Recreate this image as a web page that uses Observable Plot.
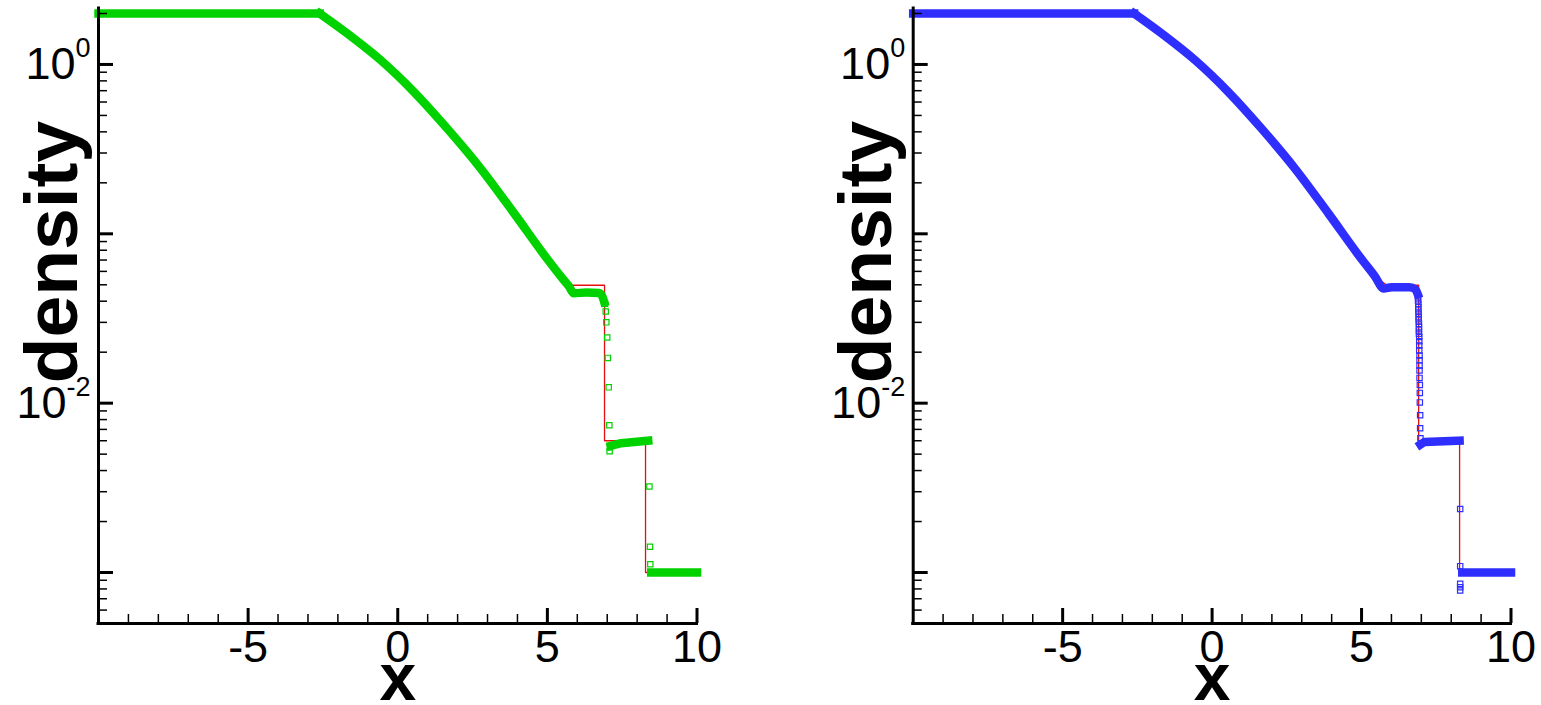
<!DOCTYPE html>
<html><head><meta charset="utf-8">
<script src="https://cdn.jsdelivr.net/npm/d3@7"></script>
<script src="https://cdn.jsdelivr.net/npm/@observablehq/plot@0.6"></script>
<style>
body{margin:0;background:#fff;}
#wrap{display:flex;width:1541px;height:705px;overflow:hidden;}
svg{display:block;}
</style></head><body><div id="wrap"></div>
<script>
// ---------- data ----------
const leftStateX = [-10, -2.61];
const leftStateRho = [2.0, 2.0];
const rarefX = [-2.61, -1.68, -0.57, 0.55, 1.66, 2.78, 3.89, 5.01, 5.45];
const rarefRho = [2.0, 1.52, 1.06, 0.686, 0.417, 0.242, 0.132, 0.0705, 0.0560];
// exact solution after the rarefaction
const exactTailX = [5.85, 6.91, 6.91, 8.28, 8.28, 10];
const exactTailRho = [0.0497, 0.0497, 0.0060, 0.0060, 0.0010, 0.0010];

// left panel (green) numerical solution
const gPlateauX = [5.72, 5.88, 6.30, 6.72, 6.84, 6.90];
const gPlateauRho = [0.0490, 0.0446, 0.0450, 0.0447, 0.0425, 0.0395];
const gContactX = [6.93, 6.95, 6.97, 7.00, 7.02, 7.05, 7.07, 7.08, 7.09];
const gContactRho = [0.0386, 0.0348, 0.0300, 0.0244, 0.0185, 0.0124, 0.0074, 0.0052, 0.0055];
const gMidX = [7.12, 7.46, 8.37];
const gMidRho = [0.0056, 0.0058, 0.0060];
const gShockX = [8.41, 8.43, 8.44];
const gShockRho = [0.00322, 0.00142, 0.00112];
const gRightX = [8.47, 10];
const gRightRho = [0.0010, 0.0010];

// right panel (blue) numerical solution
const bPlateauX = [5.74, 6.00, 6.60, 6.80, 6.88];
const bPlateauRho = [0.0475, 0.0484, 0.0484, 0.0470, 0.0440];
const bContactX = [6.89, 6.89, 6.90, 6.90, 6.90, 6.91, 6.91, 6.91, 6.92, 6.92, 6.92, 6.92, 6.93, 6.93, 6.93, 6.93, 6.94, 6.94, 6.94, 6.94, 6.94, 6.95, 6.95, 6.95, 6.96, 6.96, 6.97];
const bContactRho = [0.0422, 0.0404, 0.0386, 0.0369, 0.0353, 0.0337, 0.0322, 0.0308, 0.0294, 0.0281, 0.0269, 0.0257, 0.0246, 0.0232, 0.0219, 0.0205, 0.0191, 0.0179, 0.0167, 0.0156, 0.0141, 0.0128, 0.0115, 0.0101, 0.00849, 0.00711, 0.00621];
const bMidX = [6.97, 7.10, 8.28];
const bMidRho = [0.0057, 0.0059, 0.0060];
const bShockX = [8.30, 8.30, 8.30, 8.30, 8.30];
const bShockRho = [0.00237, 0.00109, 0.000857, 0.000819, 0.000783];
const bRightX = [8.37, 10];
const bRightRho = [0.0010, 0.0010];

// axes
const xDomain = [-10, 10];
const yDomain = [5e-4, 2.14];
const xMajor = [-5, 0, 5, 10];
const xMinor = [-9, -8, -7, -6, -4, -3, -2, -1, 1, 2, 3, 4, 6, 7, 8, 9];
const yMajor = [1, 0.1, 0.01, 0.001];
const yMinor = [2, 0.9, 0.8, 0.7, 0.6, 0.5, 0.4, 0.3, 0.2,
  0.09, 0.08, 0.07, 0.06, 0.05, 0.04, 0.03, 0.02,
  0.009, 0.008, 0.007, 0.006, 0.005, 0.004, 0.003, 0.002,
  0.0009, 0.0008, 0.0007, 0.0006];
const yLabelValues = [1, 0.01];
const yLabelTexts = ["10^0", "10^-2"];

const FONT = "'Liberation Sans', Arial, Helvetica, sans-serif";
const RED = "#e41010";
const GREEN = "#00d200";
const BLUE = "#2e2eff";

const zip = (xs, ys) => xs.map((x, i) => ({x, rho: ys[i]}));
const exactPts = [...zip(leftStateX, leftStateRho), ...zip(rarefX, rarefRho).slice(1), ...zip(exactTailX, exactTailRho)];

function panel({width, marginLeft, marginRight, color, smoothPart, lines, squares}) {
  const labelMap = new Map(yLabelValues.map((v, i) => [v, yLabelTexts[i]]));
  const thick = {x: "x", y: "rho", stroke: color, strokeWidth: 8.5, strokeLinecap: "square", strokeLinejoin: "round"};
  const marks = [
    Plot.line(exactPts, {x: "x", y: "rho", stroke: RED, strokeWidth: 1.3}),
    Plot.line(smoothPart, {...thick, curve: "monotone-x"}),
    ...lines.map(seg => Plot.line(seg, thick)),
    Plot.dot(squares, {x: "x", y: "rho", symbol: "square", r: 3, stroke: color, fill: "none", strokeWidth: 1.2}),
    Plot.ruleX([xDomain[0]], {stroke: "black", strokeWidth: 3, strokeLinecap: "square"}),
    Plot.ruleY([yDomain[0]], {stroke: "black", strokeWidth: 3, strokeLinecap: "square"}),
    Plot.axisX(xMinor, {tickSize: -9, fill: "none", stroke: "black", strokeWidth: 1.5, label: null}),
    Plot.axisX(xMajor, {tickSize: -15, fill: "none", stroke: "black", strokeWidth: 3, label: null}),
    Plot.axisX(xMajor, {tickSize: 0, tickPadding: 7, tickFormat: d => String(d), fontSize: 45, fill: "black", label: null}),
    Plot.axisY(yMinor, {tickSize: -9, fill: "none", stroke: "black", strokeWidth: 1.5, label: null}),
    Plot.axisY(yMajor, {tickSize: -15, fill: "none", stroke: "black", strokeWidth: 3, label: null}),
    Plot.axisY(yLabelValues, {tickSize: 0, tickPadding: 8, tickFormat: d => labelMap.get(d), fontSize: 45, fill: "black", label: null}),
    Plot.text(["density"], {frameAnchor: "left", rotate: -90, dx: -46, dy: -64, fontSize: 75, fontWeight: "bold", fill: "black", textAnchor: "middle"}),
    Plot.text(["x"], {frameAnchor: "bottom", lineAnchor: "top", dy: 30, fontSize: 66, fontWeight: "bold", fill: "black"})
  ];
  const svg = Plot.plot({
    width, height: 705, marginTop: 8, marginBottom: 82, marginLeft, marginRight,
    x: {domain: xDomain},
    y: {type: "log", domain: yDomain},
    style: {fontFamily: FONT, background: "white", overflow: "visible", color: "black"},
    marks
  });
  d3.select(svg).selectAll("text").each(function() {
    const m = /^10\^(.+)$/.exec(this.textContent);
    if (m) {
      this.textContent = "10";
      d3.select(this).append("tspan").attr("dy", -22).attr("font-size", 27).text(m[1]);
    }
  });
  return svg;
}

const wrap = document.getElementById("wrap");
wrap.appendChild(panel({
  width: 815, marginLeft: 98, marginRight: 118.5, color: GREEN,
  smoothPart: [...zip(rarefX, rarefRho), ...zip(gPlateauX, gPlateauRho)],
  lines: [zip(leftStateX, leftStateRho), zip(gMidX, gMidRho), zip(gRightX, gRightRho)],
  squares: [...zip(gContactX, gContactRho), ...zip(gShockX, gShockRho)]
}));
wrap.appendChild(panel({
  width: 726, marginLeft: 97.7, marginRight: 30.5, color: BLUE,
  smoothPart: [...zip(rarefX, rarefRho), ...zip(bPlateauX, bPlateauRho)],
  lines: [zip(leftStateX, leftStateRho), zip(bMidX, bMidRho), zip(bRightX, bRightRho)],
  squares: [...zip(bContactX, bContactRho), ...zip(bShockX, bShockRho)]
}));
</script>
</body></html>
